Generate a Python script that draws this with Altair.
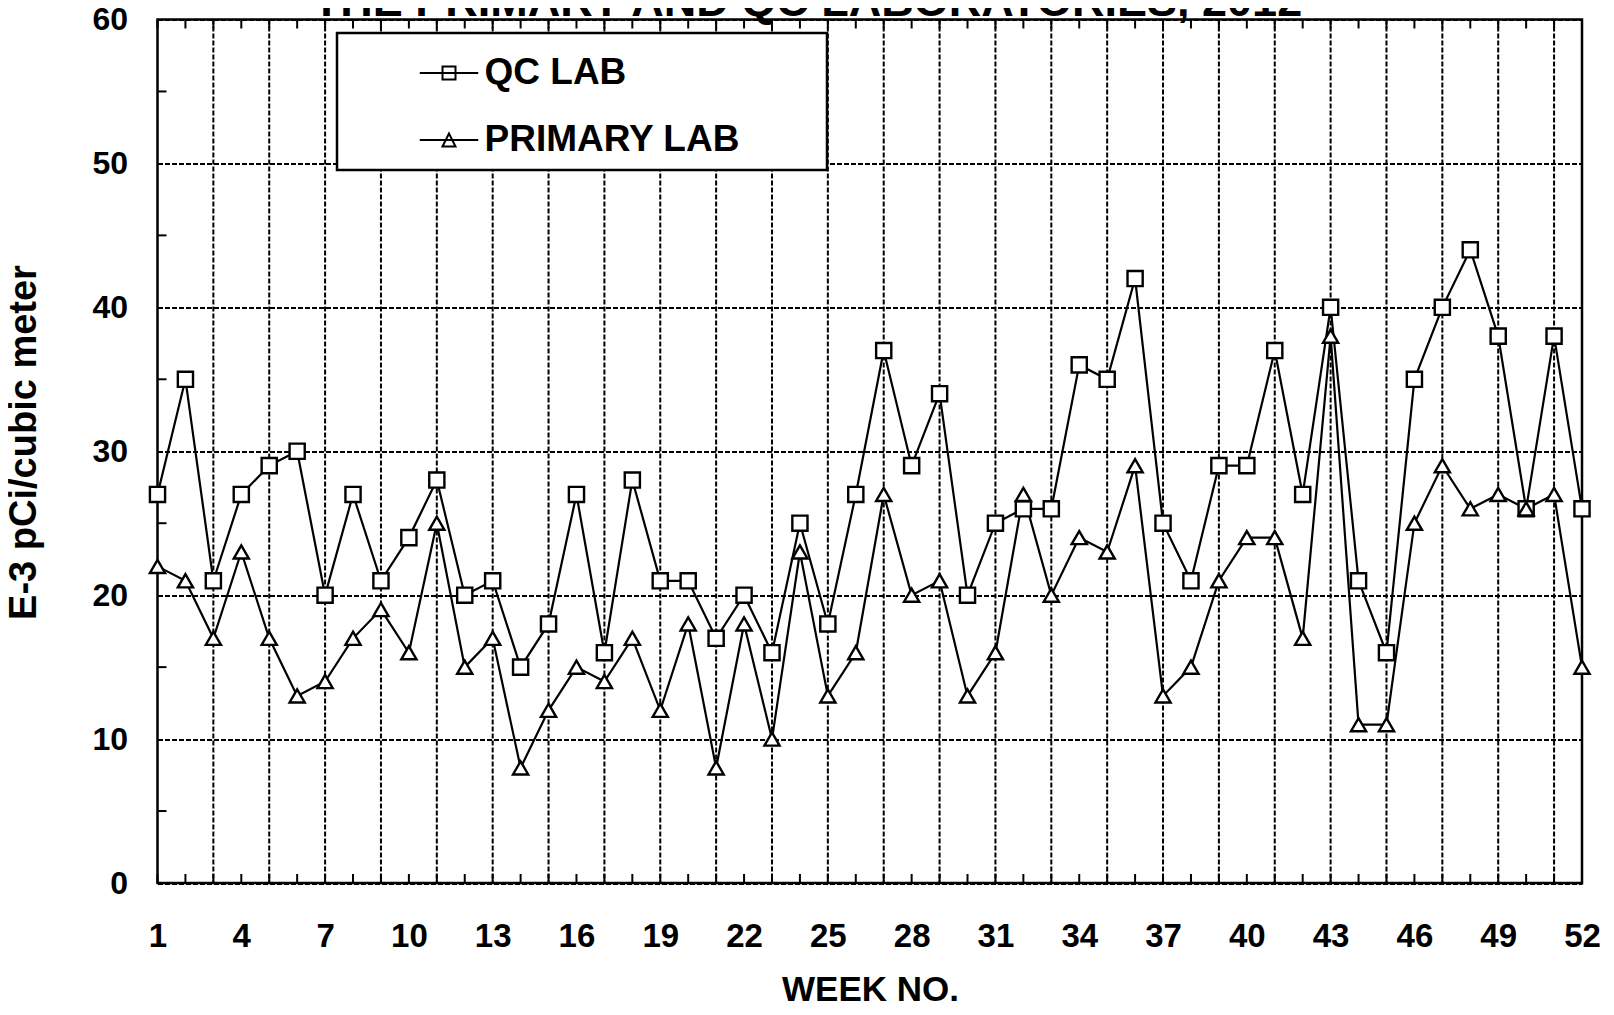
import altair as alt
import pandas as pd

# ---- data ----
weeks = list(range(1, 53))
qc_lab = [27, 35, 21, 27, 29, 30, 20, 27, 21, 24,
          28, 20, 21, 15, 18, 27, 16, 28, 21, 21,
          17, 20, 16, 25, 18, 27, 37, 29, 34, 20,
          25, 26, 26, 36, 35, 42, 25, 21, 29, 29,
          37, 27, 40, 21, 16, 35, 40, 44, 38, 26,
          38, 26]
primary_lab = [22, 21, 17, 23, 17, 13, 14, 17, 19, 16,
               25, 15, 17, 8, 12, 15, 14, 17, 12, 18,
               8, 18, 10, 23, 13, 16, 27, 20, 21, 13,
               16, 27, 20, 24, 23, 29, 13, 15, 21, 24,
               24, 17, 38, 11, 11, 25, 29, 26, 27, 26,
               27, 15]
series_names = ["QC LAB", "PRIMARY LAB"]
x_tick_labels = list(range(1, 53, 3))
y_tick_values = [0, 10, 20, 30, 40, 50, 60]
grid_weeks = list(range(3, 52, 2))
minor_y = [5, 15, 25, 35, 45, 55]
title_text = "THE PRIMARY AND QC LABORATORIES, 2012"
x_title = "WEEK NO."
y_title = "E-3 pCi/cubic meter"

FONT = "Liberation Sans"
W, H = 1424.5, 863.5

df = pd.DataFrame({
    "week": weeks * 2,
    "value": qc_lab + primary_lab,
    "series": [series_names[0]] * len(weeks) + [series_names[1]] * len(weeks),
})
df_weeks = pd.DataFrame({"week": weeks})
df_grid = pd.DataFrame({"week": grid_weeks})
df_minor = pd.DataFrame({"value": minor_y})
df_one = pd.DataFrame({"t": [title_text]})

xscale = alt.Scale(domain=[1, 52], nice=False, zero=False)
yscale = alt.Scale(domain=[0, 60], nice=False, zero=True)

x_axis = alt.Axis(values=x_tick_labels, grid=False, ticks=False, domain=False,
                  labelFont=FONT, labelFontSize=33, labelFontWeight="bold",
                  labelColor="black", labelPadding=37, labelFlush=False,
                  labelOverlap=False, title=x_title, titleFont=FONT,
                  titleFontSize=35, titleFontWeight="bold", titleColor="black",
                  titleX=712.5, titleY=106, titleBaseline="middle", titleAlign="center")
y_axis = alt.Axis(values=y_tick_values, grid=True, gridDash=[5, 2], gridColor="black",
                  gridWidth=2, gridOpacity=1, ticks=False, domain=False,
                  labelFont=FONT, labelFontSize=32, labelFontWeight="bold",
                  labelColor="black", labelPadding=30, labelFlush=False,
                  labelOverlap=False, title=y_title, titleFont=FONT,
                  titleFontSize=38, titleFontWeight="bold", titleColor="black",
                  titleX=-133.5, titleY=422.5, titleAngle=270,
                  titleBaseline="middle", titleAlign="center")

X = alt.X("week:Q", scale=xscale, axis=x_axis)
Y = alt.Y("value:Q", scale=yscale, axis=y_axis)

lines = alt.Chart(df).mark_line(color="black", strokeWidth=2.2).encode(
    x=X, y=Y, detail="series:N",
)

grid_rules = alt.Chart(df_grid).mark_rule(color="black", strokeWidth=2, strokeDash=[5, 2]).encode(
    x=X, y=alt.value(0), y2=alt.value(H),
)

legend_box = alt.Chart(df_one).mark_rect(fill="white", stroke="black", strokeWidth=2.5).encode(
    x=alt.value(179.5), x2=alt.value(669.5), y=alt.value(13.5), y2=alt.value(150.5)
)

bottom_ticks = alt.Chart(df_weeks).mark_rule(color="black", strokeWidth=2).encode(
    x=X, y=alt.value(H), y2=alt.value(H - 9)
)
top_ticks = alt.Chart(df_weeks).mark_rule(color="black", strokeWidth=2).encode(
    x=X, y=alt.value(0), y2=alt.value(9)
)
left_ticks = alt.Chart(df_minor).mark_rule(color="black", strokeWidth=2).encode(
    y=Y, x=alt.value(0), x2=alt.value(9)
)

points = alt.Chart(df).mark_point(filled=True, fill="white", stroke="black",
                                  strokeWidth=2.4, size=230, opacity=1).encode(
    x=X, y=Y,
    shape=alt.Shape("series:N",
                    scale=alt.Scale(domain=series_names, range=["square", "triangle-up"]),
                    legend=None),
)

path_sq = "M-4.5,0H4.5M-1,-1H1V1H-1Z"
path_tri = "M-4.5,0H4.5M-1,1L0,-1L1,1Z"
legend_layer = alt.Chart(df).mark_point(opacity=0, filled=False).encode(
    x=X, y=Y,
    shape=alt.Shape("series:N",
                    scale=alt.Scale(domain=series_names, range=[path_sq, path_tri]),
                    legend=alt.Legend(orient="none", legendX=273, legendY=35, title=None,
                                      labelFont=FONT, labelFontSize=37, labelFontWeight="bold",
                                      labelColor="black", symbolSize=169,
                                      symbolStrokeColor="black", symbolStrokeWidth=2,
                                      symbolFillColor="transparent", symbolOpacity=1,
                                      rowPadding=29, labelOffset=17, padding=0,
                                      labelLimit=0)),
)

title_layer = alt.Chart(df_one).mark_text(font=FONT, fontSize=45, fontWeight="bold",
                                          baseline="alphabetic", align="center",
                                          color="black").encode(
    x=alt.value(650), y=alt.value(-3.5), text="t:N"
)

chart = alt.layer(
    lines, grid_rules, legend_box, bottom_ticks, top_ticks, left_ticks,
    points, legend_layer, title_layer
).resolve_scale(shape="independent").properties(
    width=W, height=H,
    autosize=alt.AutoSizeParams(type="none"),
    padding={"left": 149.5, "top": 11.5, "right": 24, "bottom": 122},
    background="white",
).configure_view(stroke="black", strokeWidth=2.5)

chart.save("out.html", embed_options={"renderer": "svg", "actions": False})
